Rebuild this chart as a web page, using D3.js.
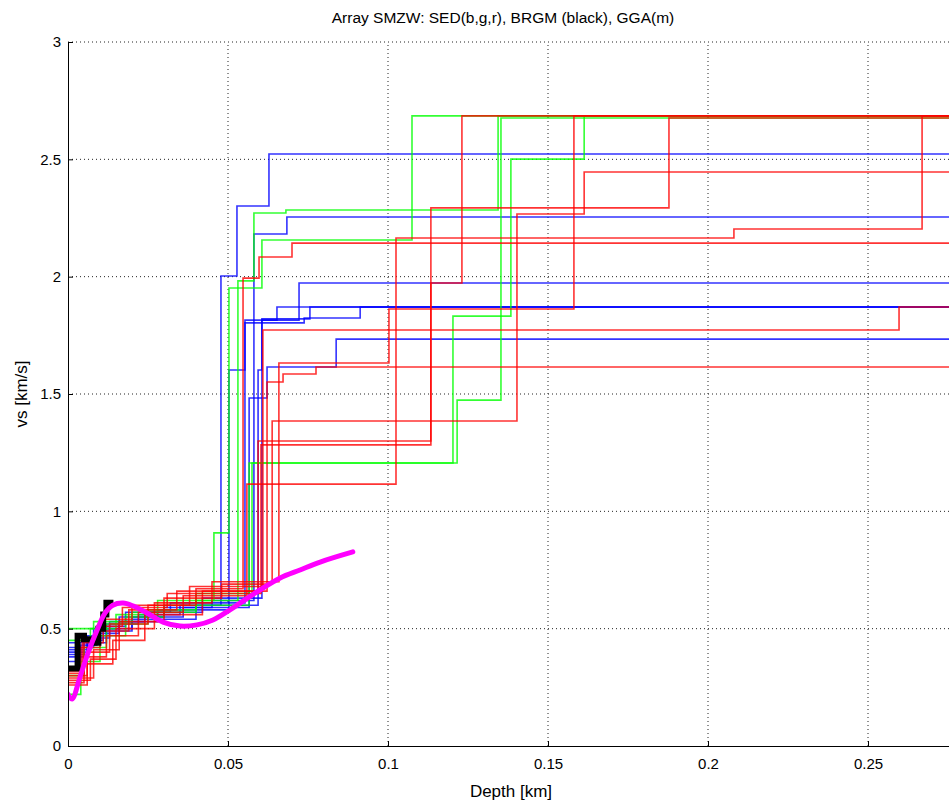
<!DOCTYPE html>
<html>
<head>
<meta charset="utf-8">
<script src="https://cdn.jsdelivr.net/npm/d3@7"></script>
<style>
body { margin: 0; background: #fff; }
svg { display: block; font-family: "Liberation Sans", Arial, sans-serif; }
</style>
</head>
<body>
<svg id="chart" width="949" height="802"></svg>
<script>
// each profile: layer tops as [depth km, vs km/s], the last layer is the half-space
var blueProfiles = [
    [[0, 0.40], [0.006, 0.47], [0.012, 0.52], [0.022, 0.56], [0.035, 0.60], [0.0478, 2.003], [0.0528, 2.301], [0.0628, 2.523]],
    [[0, 0.42], [0.008, 0.50], [0.016, 0.55], [0.030, 0.59], [0.045, 0.62], [0.0581, 2.182], [0.0684, 2.254]],
    [[0, 0.38], [0.005, 0.45], [0.011, 0.49], [0.020, 0.54], [0.040, 0.60], [0.0594, 1.602], [0.0606, 1.815], [0.0722, 1.973]],
    [[0, 0.44], [0.010, 0.51], [0.018, 0.57], [0.032, 0.61], [0.0553, 1.803], [0.0738, 1.824], [0.0913, 1.871]],
    [[0, 0.36], [0.004, 0.43], [0.009, 0.48], [0.016, 0.53], [0.028, 0.58], [0.0503, 1.602], [0.0553, 1.815], [0.0653, 1.871]],
    [[0, 0.41], [0.007, 0.46], [0.013, 0.53], [0.024, 0.57], [0.042, 0.63], [0.0606, 1.82], [0.0756, 1.871]],
    [[0, 0.39], [0.006, 0.44], [0.012, 0.50], [0.020, 0.55], [0.036, 0.59], [0.0566, 1.483], [0.0622, 1.615], [0.0838, 1.734]]
];
var greenProfiles = [
    [[0, 0.50], [0.008, 0.53], [0.020, 0.57], [0.040, 0.62], [0.0531, 1.982], [0.0581, 2.271], [0.0681, 2.284], [0.1344, 2.685]],
    [[0, 0.22], [0.004, 0.36], [0.010, 0.47], [0.018, 0.55], [0.030, 0.60], [0.0566, 1.206], [0.1203, 1.832], [0.1384, 2.501], [0.1613, 2.685]],
    [[0, 0.30], [0.005, 0.42], [0.012, 0.52], [0.025, 0.58], [0.040, 0.65], [0.0575, 1.206], [0.1216, 1.474], [0.1353, 2.676]],
    [[0, 0.45], [0.007, 0.50], [0.015, 0.56], [0.028, 0.62], [0.0456, 0.908], [0.0503, 1.952], [0.0606, 2.156], [0.1075, 2.685]]
];
var redProfiles = [
    [[0, 0.27], [0.005, 0.38], [0.012, 0.47], [0.022, 0.57], [0.036, 0.64], [0.0559, 1.116], [0.1025, 2.165], [0.2081, 2.203], [0.2669, 2.685]],
    [[0, 0.30], [0.006, 0.40], [0.013, 0.52], [0.025, 0.60], [0.040, 0.67], [0.0547, 1.994], [0.0597, 2.084], [0.0700, 2.143]],
    [[0, 0.33], [0.004, 0.42], [0.010, 0.49], [0.019, 0.58], [0.034, 0.66], [0.0594, 1.300], [0.1134, 2.293], [0.1878, 2.676]],
    [[0, 0.28], [0.007, 0.37], [0.015, 0.50], [0.027, 0.61], [0.045, 0.70], [0.0659, 1.632], [0.1003, 1.862], [0.1581, 2.685]],
    [[0, 0.31], [0.005, 0.44], [0.011, 0.54], [0.020, 0.60], [0.038, 0.68], [0.0609, 1.773], [0.2597, 1.871]],
    [[0, 0.26], [0.006, 0.35], [0.014, 0.45], [0.024, 0.56], [0.042, 0.66], [0.0622, 1.551], [0.0672, 1.585], [0.0775, 1.615]],
    [[0, 0.29], [0.008, 0.41], [0.016, 0.53], [0.030, 0.63], [0.048, 0.69], [0.0638, 1.385], [0.1403, 2.267], [0.1613, 2.446]],
    [[0, 0.32], [0.0045, 0.45], [0.009, 0.51], [0.017, 0.59], [0.031, 0.65], [0.0603, 1.283], [0.1134, 1.973], [0.1231, 2.685]]
];
// BRGM profile (ends at brgmEnd)
var brgm = [[0, 0.33], [0.003, 0.47], [0.005, 0.455], [0.0075, 0.44], [0.0095, 0.50], [0.011, 0.56], [0.012, 0.61]];
var brgmEnd = 0.0142;
// GGA smooth curve
var gga = [[0, 0.22], [0.00125, 0.20], [0.00375, 0.294], [0.00625, 0.396], [0.0091, 0.494], [0.0116, 0.567],
    [0.014, 0.60], [0.0172, 0.609], [0.0203, 0.597], [0.0247, 0.567], [0.0297, 0.528], [0.035, 0.511],
    [0.0403, 0.516], [0.0453, 0.537], [0.0506, 0.58], [0.0538, 0.609], [0.060, 0.665], [0.0663, 0.716],
    [0.0725, 0.75], [0.0788, 0.784], [0.089, 0.827]];

var xTicks = [0, 0.05, 0.1, 0.15, 0.2, 0.25];
var yTicks = [0, 0.5, 1, 1.5, 2, 2.5, 3];
var xMax = 0.28;

var svg = d3.select("#chart");
var x = d3.scaleLinear().domain([0, xMax]).range([68, 964]);
var y = d3.scaleLinear().domain([0, 3]).range([746, 42]);

// dotted grid
svg.append("g").selectAll("line").data(xTicks.slice(1)).enter().append("line")
    .attr("x1", d => x(d)).attr("x2", d => x(d))
    .attr("y1", y(0)).attr("y2", y(3))
    .attr("stroke", "#222").attr("stroke-dasharray", "1,3");
svg.append("g").selectAll("line").data(yTicks.slice(1)).enter().append("line")
    .attr("x1", x(0)).attr("x2", x(xMax))
    .attr("y1", d => y(d)).attr("y2", d => y(d))
    .attr("stroke", "#222").attr("stroke-dasharray", "1,3");

svg.append("clipPath").attr("id", "clip").append("rect")
    .attr("x", 68).attr("y", 30).attr("width", 896).attr("height", 720);

var step = d3.line().x(d => x(d[0])).y(d => y(d[1])).curve(d3.curveStepAfter);
var plot = svg.append("g").attr("clip-path", "url(#clip)");

function drawSet(profiles, colour) {
    plot.append("g").selectAll("path").data(profiles).enter().append("path")
        .attr("d", p => step(p.concat([[xMax + 0.01, p[p.length - 1][1]]])))
        .attr("fill", "none")
        .attr("stroke", colour)
        .attr("stroke-width", 1.6)
        .attr("stroke-opacity", 0.8);
}
drawSet(blueProfiles, "#0000ff");
drawSet(greenProfiles, "#00ff00");
drawSet(redProfiles, "#ff0000");

plot.append("path")
    .attr("d", step(brgm.concat([[brgmEnd, brgm[brgm.length - 1][1]]])))
    .attr("fill", "none").attr("stroke", "#000").attr("stroke-width", 6);

plot.append("path")
    .attr("d", d3.line().x(d => x(d[0])).y(d => y(d[1])).curve(d3.curveCatmullRom)(gga))
    .attr("fill", "none").attr("stroke", "#ff00ff").attr("stroke-width", 5)
    .attr("stroke-linecap", "round");

// axes
var fmt = d => String(d);
var xAxis = svg.append("g").attr("transform", "translate(0,746)")
    .call(d3.axisBottom(x).tickValues(xTicks).tickSizeInner(-5).tickSizeOuter(0).tickPadding(12).tickFormat(fmt));
var yAxis = svg.append("g").attr("transform", "translate(68,0)")
    .call(d3.axisLeft(y).tickValues(yTicks).tickSizeInner(-5).tickSizeOuter(0).tickPadding(7).tickFormat(fmt));
[xAxis, yAxis].forEach(function(a) {
    a.attr("font-size", 15).attr("font-family", "'Liberation Sans', Arial, sans-serif");
    a.selectAll("text").attr("fill", "#000");
    a.selectAll("line, path").attr("stroke", "#000");
});

svg.append("text").attr("x", 503).attr("y", 23).attr("text-anchor", "middle")
    .attr("font-size", 15.5).text("Array SMZW: SED(b,g,r), BRGM (black), GGA(m)");
svg.append("text").attr("x", 511).attr("y", 797).attr("text-anchor", "middle")
    .attr("font-size", 17).text("Depth [km]");
svg.append("text").attr("transform", "translate(27,394) rotate(-90)").attr("text-anchor", "middle")
    .attr("font-size", 17).text("vs [km/s]");
</script>
</body>
</html>
